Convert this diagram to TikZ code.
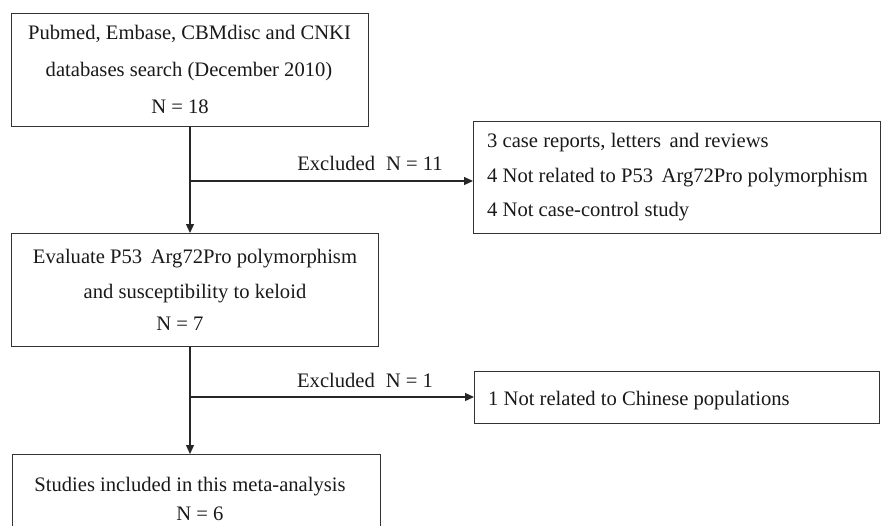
\documentclass[tikz,border=0pt]{standalone}
\usepackage{fontspec}
\setmainfont{Liberation Serif}
\usetikzlibrary{arrows.meta}
\begin{document}
\begin{tikzpicture}[x=1pt,y=-1pt,
  box/.style={draw=black!80, line width=1.3pt, anchor=north west, inner sep=0pt},
  txt/.style={font=\fontsize{20.6}{24}\selectfont, inner sep=0pt, text=black!90},
  ctr/.style={txt, anchor=base},
  lft/.style={txt, anchor=base west},
  conn/.style={draw=black!85, line width=1.3pt},
  arr/.style={conn, -{Triangle[length=9pt,width=8pt]}}]
\useasboundingbox (0,0) rectangle (881,525);
% boxes
\node[box, minimum width=357, minimum height=113] (b1) at (11,13) {};
\node[box, minimum width=367, minimum height=113] (b2) at (11,233) {};
\node[box, minimum width=407, minimum height=112] (b3) at (473,121) {};
\node[box, minimum width=405, minimum height=52] (b4) at (474,371) {};
\begin{scope}
\clip (0,0) rectangle (881,525);
\node[box, minimum width=368, minimum height=90] (b5) at (12,454) {};
\end{scope}
% texts box 1
\node[ctr] (t11) at (189.5,39) {Pubmed, Embase, CBMdisc and CNKI};
\node[ctr] (t12) at (189,76) {databases search (December 2010)};
\node[ctr] (t13) at (180,113) {N = 18};
% box 2
\node[ctr] (t21) at (195,263) {Evaluate P53\, Arg72Pro polymorphism};
\node[ctr] (t22) at (195,298) {and susceptibility to keloid};
\node[ctr] (t23) at (180,330) {N = 7};
% box 3
\node[lft] (t31) at (487,147) {3 case reports, letters\, and reviews};
\node[lft] (t32) at (487,182) {4 Not related to P53\, Arg72Pro polymorphism};
\node[lft] (t33) at (487,216) {4 Not case-control study};
% box 4
\node[lft] (t41) at (488,405) {1 Not related to Chinese populations};
% box 5
\node[ctr] (t51) at (190,491) {Studies included in this meta-analysis};
\node[ctr] (t52) at (200,520) {N = 6};
% connectors
\coordinate (j1) at (190,181);
\coordinate (j2) at (190,397);
\draw[arr] (j1 |- b1.south) -- (j1 |- b2.north);
\draw[arr] (j1) -- (j1 -| b3.west);
\draw[arr] (j2 |- b2.south) -- (j2 |- b5.north);
\draw[arr] (j2) -- (j2 -| b4.west);
\node[ctr] (l1) at (370,170) {Excluded\; N = 11};
\node[ctr] (l2) at (365,387) {Excluded\; N = 1};
\end{tikzpicture}
\end{document}
